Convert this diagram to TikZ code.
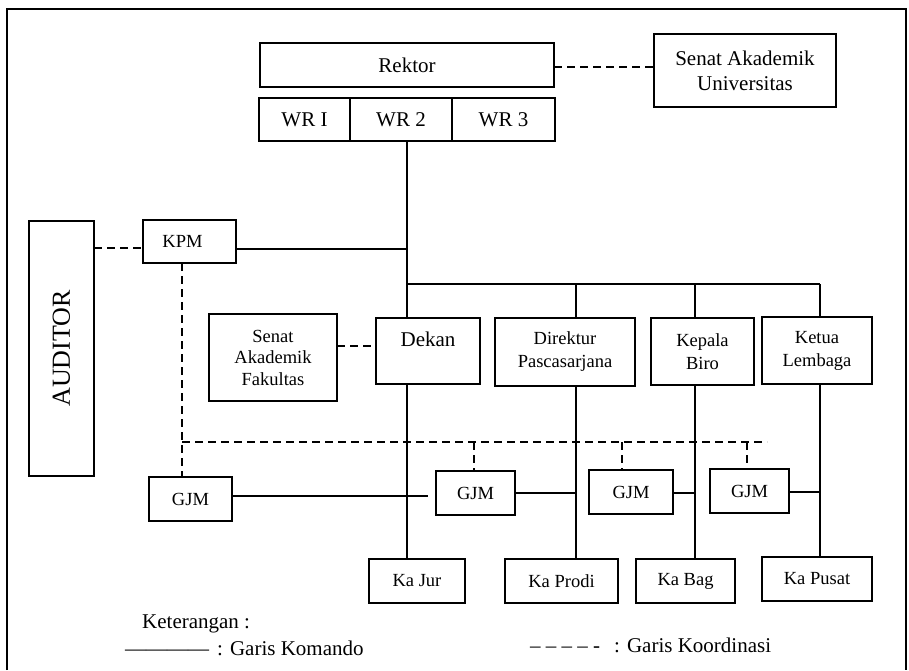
\documentclass[tikz,border=0pt]{standalone}
\usepackage{fontspec}
\setmainfont{Liberation Serif}
\begin{document}
\begin{tikzpicture}[x=1pt,y=-1pt,
  box/.style={draw, line width=2pt, inner sep=0pt, outer sep=0pt, align=center,
    font=\fontsize{18.5}{22}\selectfont},
  bigbox/.style={box, font=\fontsize{21}{25}\selectfont},
  conn/.style={line width=1.2pt},
  coord/.style={line width=1.2pt, dash pattern=on 8pt off 5pt},
  legend/.style={inner sep=0pt, anchor=base west, font=\fontsize{21}{25}\selectfont},
]
\useasboundingbox (0,0) rectangle (909,670);
% outer frame (open at the bottom)
\draw[line width=2pt] (7,670) -- (7,9.3) -- (906,9.3) -- (906,670);

% boxes
\node[bigbox, minimum width=294, minimum height=44] (Rektor) at (407,65) {Rektor};
\node[bigbox, minimum width=91, minimum height=43] (WR1) at (304.5,119.5) {WR I};
\node[bigbox, minimum width=102, minimum height=43] (WR2) at (401,119.5) {WR 2};
\node[bigbox, minimum width=103, minimum height=43] (WR3) at (503.5,119.5) {WR 3};
\node[bigbox, minimum width=182, minimum height=73, font=\fontsize{21}{25}\selectfont] (SenatU) at (745,70.5) {Senat Akademik\\Universitas};
\node[box, minimum width=65, minimum height=255] (AUDITOR) at (61.5,348.5) {\fontsize{26}{30}\selectfont\rotatebox{90}{AUDITOR}};
\node[box, minimum width=93, minimum height=43] (KPM) at (189.5,241.5) {\hspace*{-14pt}KPM};
\node[box, minimum width=128, minimum height=87, font=\fontsize{18.5}{21.5}\selectfont] (SenatF) at (273,357.5) {Senat\\Akademik\\Fakultas};
\node[bigbox, minimum width=104, minimum height=66] (Dekan) at (428,351) {\smash{\raisebox{5pt}{Dekan}}};
\node[box, minimum width=140, minimum height=68, font=\fontsize{18.5}{23}\selectfont] (Direktur) at (565,352) {Direktur\\Pascasarjana};
\node[box, minimum width=103, minimum height=67, font=\fontsize{18.5}{23}\selectfont] (Kepala) at (702.5,351.5) {Kepala\\Biro};
\node[box, minimum width=110, minimum height=67, font=\fontsize{18.5}{23}\selectfont] (Ketua) at (817,350.5) {Ketua\\Lembaga};
\node[box, minimum width=83, minimum height=44] (GJM1) at (190.5,499) {GJM};
\node[box, minimum width=79, minimum height=44] (GJM2) at (475.5,493) {GJM};
\node[box, minimum width=84, minimum height=44] (GJM3) at (631,492) {GJM};
\node[box, minimum width=79, minimum height=44] (GJM4) at (749.5,491) {GJM};
\node[box, minimum width=96, minimum height=44] (KaJur) at (417,581) {Ka Jur};
\node[box, minimum width=113, minimum height=44] (KaProdi) at (561.5,581) {Ka Prodi};
\node[box, minimum width=99, minimum height=44] (KaBag) at (685.5,581) {Ka Bag};
\node[box, minimum width=110, minimum height=44] (KaPusat) at (817,579) {Ka Pusat};

% helper coordinates
\coordinate (sp) at (407,0);
\coordinate (dx1) at (576,0);
\coordinate (dx2) at (695,0);
\coordinate (dx3) at (820,0);
\coordinate (kx) at (182,0);
\coordinate (g2x) at (474,0);
\coordinate (g3x) at (622,0);
\coordinate (g4x) at (747,0);
\coordinate (ry) at (0,67);
\coordinate (kpmy) at (0,249);
\coordinate (kpmd) at (0,248);
\coordinate (bus) at (0,284);
\coordinate (sy) at (0,346);
\coordinate (cb) at (0,442);
\coordinate (cbend) at (767,442);
\coordinate (g1y) at (0,496);
\coordinate (g1end) at (428,496);
\coordinate (g2y) at (0,493);
\coordinate (g4y) at (0,492);

% command lines
\draw[conn] (WR2.south -| sp) -- (sp |- Dekan.north);
\draw[conn] (KPM.east |- kpmy) -- (sp |- kpmy);
\draw[conn] (sp |- bus) -- (dx3 |- bus);
\draw[conn] (dx1 |- bus) -- (dx1 |- Direktur.north);
\draw[conn] (dx2 |- bus) -- (dx2 |- Kepala.north);
\draw[conn] (dx3 |- bus) -- (dx3 |- Ketua.north);
\draw[conn] (sp |- Dekan.south) -- (sp |- KaJur.north);
\draw[conn] (dx1 |- Direktur.south) -- (dx1 |- KaProdi.north);
\draw[conn] (dx2 |- Kepala.south) -- (dx2 |- KaBag.north);
\draw[conn] (dx3 |- Ketua.south) -- (dx3 |- KaPusat.north);
\draw[conn] (GJM1.east |- g1y) -- (g1end);
\draw[conn] (GJM2.east |- g2y) -- (dx1 |- g2y);
\draw[conn] (GJM3.east |- g2y) -- (dx2 |- g2y);
\draw[conn] (GJM4.east |- g4y) -- (dx3 |- g4y);

% coordination lines
\draw[coord] (Rektor.east |- ry) -- (SenatU.west |- ry);
\draw[coord] (AUDITOR.east |- kpmd) -- (KPM.west |- kpmd);
\draw[coord] (SenatF.east |- sy) -- (Dekan.west |- sy);
\draw[coord] (kx |- KPM.south) -- (kx |- GJM1.north);
\draw[coord] (kx |- cb) -- (cbend);
\draw[coord] (g2x |- cb) -- (g2x |- GJM2.north);
\draw[coord] (g3x |- cb) -- (g3x |- GJM3.north);
\draw[coord] (g4x |- cb) -- (g4x |- GJM4.north);

% legend
\node[legend] (ket) at (142,628) {Keterangan :};
\node[legend] (lsolid) at (125,655) {————};
\node[legend] (lkom) at (217,655) {: Garis Komando};
\node[legend] (ldash) at (530,652) {– – – – -};
\node[legend] (lkoor) at (614,652) {: Garis Koordinasi};
\end{tikzpicture}
\end{document}
